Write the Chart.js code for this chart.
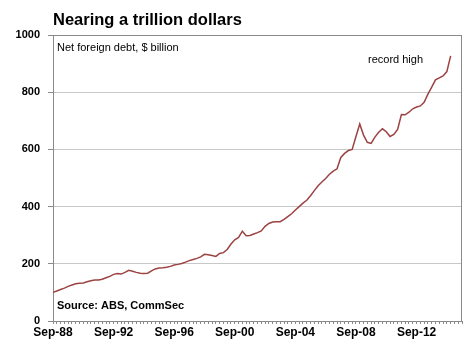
<!DOCTYPE html>
<html>
<head>
<meta charset="utf-8">
<script src="https://cdn.jsdelivr.net/npm/chart.js@4"></script>
<style>
  body { margin: 0; background: #fff; }
  #wrap { width: 470px; height: 349px; position: relative; }
</style>
</head>
<body>
<div id="wrap"><canvas id="chart" width="470" height="349"></canvas></div>
<script>
// quarterly, Sep-88 onwards
const debt = [
  100, 105, 110, 115, 121, 126, 130, 132, 133, 137,
  141, 143, 143, 146, 151, 156, 163, 166, 164, 170,
  177, 174, 170, 167, 166, 167, 175, 182, 185, 186,
  188, 191, 196, 198, 201, 206, 211, 215, 219, 224,
  233, 232, 229, 226, 236, 239, 250, 269, 284, 292,
  314, 298, 299, 304, 309, 315, 331, 341, 346, 347,
  347, 355, 365, 375, 388, 400, 412, 422, 438, 456,
  473, 486, 498, 513, 524, 532, 572, 586, 596, 600,
  645, 689, 650, 625, 621, 643, 660, 672, 662, 645,
  652, 670, 722, 721, 730, 742, 748, 752, 765, 793,
  818, 843, 850, 857, 872, 927
];
const months = ['Sep', 'Dec', 'Mar', 'Jun'];
const yTicks = [0, 200, 400, 600, 800, 1000];

// category labels, a few empty quarters at the end of the axis
const quarters = [];
for (let i = 0; i < 109; i++) {
  let m = months[i % 4];
  let yr = 1988 + Math.floor((i + 1) / 4);
  quarters.push(m + '-' + String(yr % 100).padStart(2, '0'));
}

const textPlugin = {
  id: 'texts',
  beforeDatasetsDraw(chart) {
    const ctx = chart.ctx;
    const a = chart.chartArea;
    ctx.save();
    ctx.strokeStyle = '#8a8a8a';
    ctx.lineWidth = 1;
    ctx.strokeRect(a.left + 0.5, a.top + 0.5, a.right - a.left - 1, a.bottom - a.top);
    ctx.restore();
  },
  afterDraw(chart) {
    const ctx = chart.ctx;
    ctx.save();
    ctx.fillStyle = '#000';
    ctx.textBaseline = 'alphabetic';
    ctx.font = 'bold 16.5px "Liberation Sans", Arial, sans-serif';
    ctx.fillText('Nearing a trillion dollars', 53, 25);
    ctx.font = '11px "Liberation Sans", Arial, sans-serif';
    ctx.fillText('Net foreign debt, $ billion', 57, 51);
    ctx.fillText('record high', 368, 63);
    ctx.font = 'bold 11px "Liberation Sans", Arial, sans-serif';
    ctx.fillText('Source: ABS, CommSec', 57, 309);
    ctx.restore();
  }
};

new Chart(document.getElementById('chart'), {
  type: 'line',
  data: {
    labels: quarters,
    datasets: [{
      data: debt,
      borderColor: '#9c4242',
      borderWidth: 1.5,
      pointRadius: 0,
      tension: 0,
      fill: false
    }]
  },
  options: {
    responsive: false,
    animation: false,
    layout: { padding: { top: 35, right: 8, left: 5, bottom: 0 } },
    plugins: { legend: { display: false }, tooltip: { enabled: false } },
    scales: {
      x: {
        offset: false,
        afterFit: s => { s.height = 28; },
        grid: { drawOnChartArea: false, drawTicks: true, tickLength: 3, color: '#8a8a8a' },
        border: { color: '#8a8a8a' },
        ticks: {
          autoSkip: false,
          maxRotation: 0,
          padding: 1,
          color: '#000',
          font: { family: '"Liberation Sans", Arial, sans-serif', size: 12, weight: 'bold' },
          callback: function (v, i) { return i % 16 === 0 ? quarters[i] : ''; }
        }
      },
      y: {
        min: 0,
        max: 1000,
        afterFit: s => { s.width = 48; },
        afterBuildTicks: s => { s.ticks = yTicks.map(v => ({ value: v })); },
        grid: { color: '#c8c8c8', tickLength: 5, tickColor: '#8a8a8a' },
        border: { color: '#8a8a8a' },
        ticks: {
          padding: 8,
          color: '#000',
          font: { family: '"Liberation Sans", Arial, sans-serif', size: 11, weight: 'bold' },
          callback: v => String(v)
        }
      }
    }
  },
  plugins: [textPlugin]
});
</script>
</body>
</html>
